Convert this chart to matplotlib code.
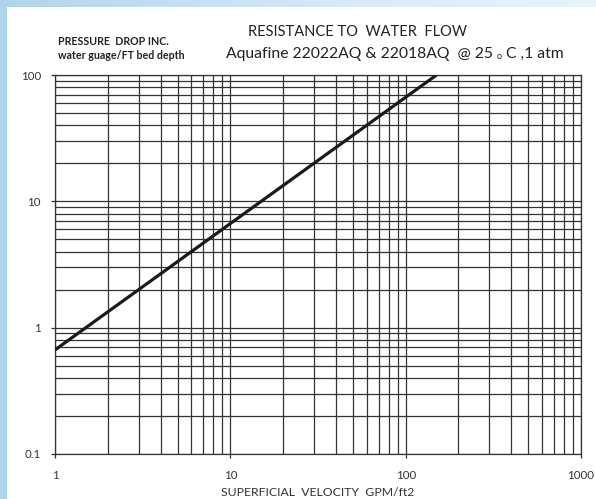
import numpy as np
import matplotlib
matplotlib.use("Agg")
import matplotlib.pyplot as plt
from matplotlib.ticker import LogLocator, NullFormatter, FixedLocator
from matplotlib.colors import LinearSegmentedColormap

# data (straight line on log-log)
velocity = [1, 3, 10, 150]
pressure_drop = [0.667, 2.0, 6.67, 100]

x_ticks = [1, 10, 100, 1000]
x_tick_labels = ["1", "10", "100", "1000"]
y_ticks = [0.1, 1, 10, 100]
y_tick_labels = ["0.1", "1", "10", "100"]

W, H = 596, 499
plt.rcParams['font.family'] = ['Lato', 'DejaVu Sans']

fig = plt.figure(figsize=(W / 100, H / 100), dpi=100)
fig.patch.set_facecolor("white")


def px(x, y):
    # pixel coords (top-left origin) -> figure fraction
    return x / W, 1 - y / H


# blue frame: left strip and top gradient band
left_ax = fig.add_axes([0, 0, 7 / W, 1])
left_ax.set_axis_off()
left_ax.add_patch(plt.Rectangle((0, 0), 1, 1, color="#b1d4ee", transform=left_ax.transAxes))

top_ax = fig.add_axes([0, 1 - 7 / H, 1, 7 / H])
top_ax.set_axis_off()
grad = np.linspace(0, 1, 256).reshape(1, -1)
band = LinearSegmentedColormap.from_list("band", ["#b3d3ec", "#c7e0f3", "#dcedf8", "#e6f3fb"])
top_ax.imshow(grad, aspect="auto", cmap=band, extent=[0, 1, 0, 1])

# main axes
ax = fig.add_axes([55 / W, 1 - 454 / H, 526 / W, 379 / H])
ax.set_xscale("log")
ax.set_yscale("log")
ax.set_xlim(1, 1000)
ax.set_ylim(0.1, 100)

ax.plot(velocity, pressure_drop, color="#1a1a1a", lw=2.3, solid_capstyle="butt", zorder=3)

ax.xaxis.set_major_locator(FixedLocator(x_ticks))
ax.set_xticklabels(x_tick_labels)
ax.yaxis.set_major_locator(FixedLocator(y_ticks))
ax.set_yticklabels(y_tick_labels)
ax.xaxis.set_minor_locator(LogLocator(base=10, subs=np.arange(2, 10), numticks=20))
ax.yaxis.set_minor_locator(LogLocator(base=10, subs=np.arange(2, 10), numticks=20))
ax.xaxis.set_minor_formatter(NullFormatter())
ax.yaxis.set_minor_formatter(NullFormatter())

ax.grid(True, which="both", color="#333333", lw=0.9)
ax.tick_params(which="major", length=3.2, width=0.9, color="#333333",
               labelsize=8.3, labelcolor="#333333")
ax.tick_params(axis="y", pad=7)
ax.tick_params(axis="x", pad=8)
ax.tick_params(which="minor", length=0)
for s in ax.spines.values():
    s.set_color("#333333")
    s.set_linewidth(0.9)

ax.set_xlabel("SUPERFICIAL  VELOCITY  GPM/ft2", fontsize=8.8, color="#333333", labelpad=5)

# titles
tc = "#222222"
fig.text(*px(58, 45), "PRESSURE  DROP INC.", fontsize=7.7, fontweight="bold", color=tc, va="baseline")
fig.text(*px(58, 59), "water guage/FT bed depth", fontsize=7.7, fontweight="bold", color=tc, va="baseline")
fig.text(*px(357, 36), "RESISTANCE TO  WATER  FLOW", fontsize=10.5, color=tc, va="baseline", ha="center")

# second title line, pieces placed one after another
renderer = fig.canvas.get_renderer()
parts = [("Aquafine 22022AQ & 22018AQ  @ 25 ", 11.3, 58), ("o", 6.5, 59), (" C ,1 atm", 11.3, 58)]
x = 226
for s, size, base in parts:
    t = fig.text(*px(x, base), s, fontsize=size, color=tc, va="baseline", ha="left")
    bb = t.get_window_extent(renderer)
    x += bb.width

fig.savefig("out.png", dpi=100, facecolor="white")
